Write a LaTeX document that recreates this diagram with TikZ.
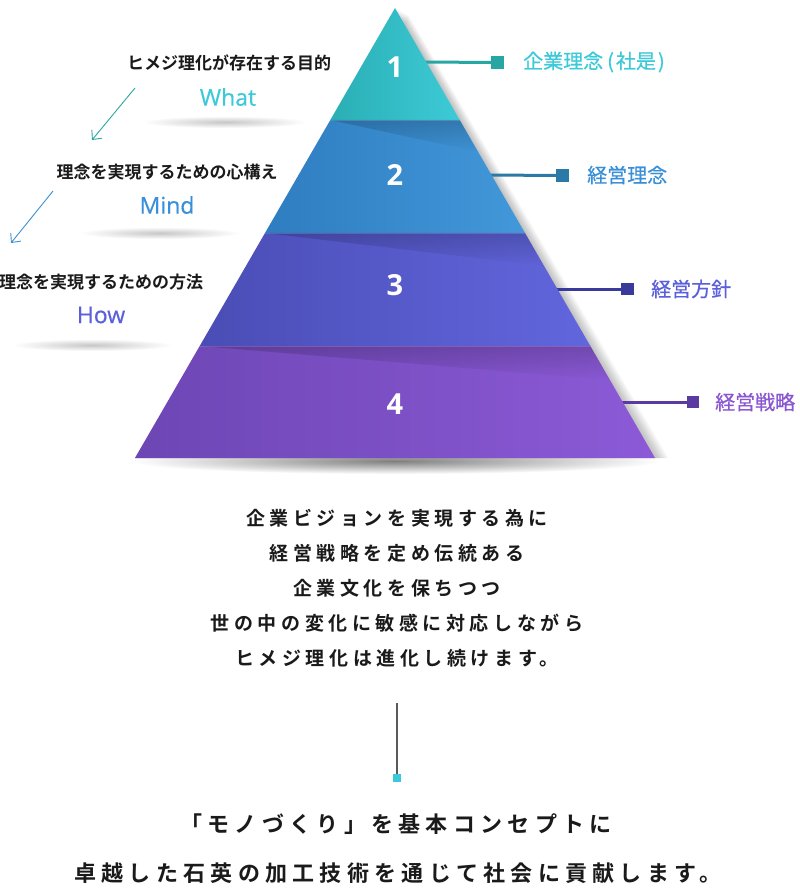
\documentclass[tikz,border=0pt]{standalone}
\usepackage{fontspec}
\setmainfont{Open Sans}
\newfontfamily\jp{Noto Sans CJK JP}[BoldFont=* Bold]
\newfontfamily\jpmed{Noto Sans CJK JP}[FakeBold=0.6]
\newfontfamily\jpsp{Noto Sans CJK JP}[BoldFont=* Bold, LetterSpace=24]
\newfontfamily\en{Open Sans}
\newfontfamily\enmed{Open Sans}[FakeBold=0.5]
\usetikzlibrary{arrows.meta,fadings}
\definecolor{tAl}{HTML}{2AAEB4}
\definecolor{tAr}{HTML}{3DCBD7}
\definecolor{tBl}{HTML}{2E7DC0}
\definecolor{tBr}{HTML}{4298DA}
\definecolor{tCl}{HTML}{4A4DB5}
\definecolor{tCr}{HTML}{6266DD}
\definecolor{tDl}{HTML}{6D46B4}
\definecolor{tDr}{HTML}{8C5AD7}
\definecolor{lnA}{HTML}{27A6A3}
\definecolor{lnB}{HTML}{2A79A6}
\definecolor{lnC}{HTML}{3A3A9C}
\definecolor{lnD}{HTML}{5B3AA2}
\definecolor{lbA}{HTML}{3CC9DA}
\definecolor{lbB}{HTML}{3A90D8}
\definecolor{lbC}{HTML}{5A60DC}
\definecolor{lbD}{HTML}{8A56D2}
\definecolor{txt}{HTML}{1A1A1A}
\definecolor{arrA}{HTML}{2AA8A0}
\definecolor{arrB}{HTML}{3A90D0}
\begin{document}
\begin{tikzpicture}[x=1pt,y=-1pt,
  num/.style={text=white, font=\en\bfseries\fontsize{29}{29}\selectfont, inner sep=0},
  sqbox/.style={minimum size=12.5pt, inner sep=0, outer sep=0},
  conn/.style={line width=3pt},
  rlabel/.style={anchor=west, inner sep=0, font=\jpmed\fontsize{20}{22}\selectfont},
  jlabel/.style={inner sep=0, text=txt, font=\jp\bfseries\fontsize{17}{20}\selectfont},
  elabel/.style={inner sep=0, font=\enmed\fontsize{23}{26}\selectfont},
  midtext/.style={inner sep=0, text=txt, font=\jpsp\bfseries\fontsize{19}{22}\selectfont},
  bottext/.style={inner sep=0, text=txt, font=\jpsp\bfseries\fontsize{22}{25}\selectfont},
  arr/.style={line width=0.9pt, -{Straight Barb[length=7pt,width=13pt]}},
  wedge/.style={fill=black, path fading=south, fill opacity=0.17},
]
\useasboundingbox[fill=white] (0,0) rectangle (800,891);

% ---- soft shadows ----
\shade[inner color=black!50, outer color=white] (395,461) ellipse [x radius=265, y radius=13];
\shade[inner color=black!22, outer color=white] (225,122) ellipse [x radius=82, y radius=6];
\shade[inner color=black!22, outer color=white] (160,233) ellipse [x radius=80, y radius=6];
\shade[inner color=black!22, outer color=white] (92,345) ellipse [x radius=80, y radius=6];
\foreach \i in {1,...,9}
  \fill[black, opacity=0.028] ({395+1.5*\i},{8+0.8*\i}) -- ({655+1.5*\i},458) -- (135,458) -- cycle;

% ---- connectors (under the pyramid) ----
\coordinate (e1) at (420,62);
\coordinate (e2) at (485,175);
\coordinate (e3) at (551,289);
\coordinate (e4) at (617,402);
\node[sqbox, fill=lnA] (s1) at (497.5,62.5) {};
\node[sqbox, fill=lnB] (s2) at (562.5,175.5) {};
\node[sqbox, fill=lnC] (s3) at (627.5,289) {};
\node[sqbox, fill=lnD] (s4) at (693,402) {};
\draw[conn, lnA] (e1) -- (s1);
\draw[conn, lnB] (e2) -- (s2);
\draw[conn, lnC] (e3) -- (s3);
\draw[conn, lnD] (e4) -- (s4);

% ---- pyramid tiers ----
\shade[left color=tAl, right color=tAr] (395,8) -- (459.7,120) -- (330.3,120) -- cycle;
\shade[left color=tBl, right color=tBr] (330.3,120) -- (459.7,120) -- (525,233) -- (265,233) -- cycle;
\shade[left color=tCl, right color=tCr] (265,233) -- (525,233) -- (590.3,346) -- (199.7,346) -- cycle;
\shade[left color=tDl, right color=tDr] (199.7,346) -- (590.3,346) -- (655,458) -- (135,458) -- cycle;
% darker wedges at the top of tiers 2-4
\fill[wedge] (330.3,120) -- (459.7,120) -- (478,152) -- cycle;
\fill[wedge] (265,233) -- (525,233) -- (544,266) -- cycle;
\fill[wedge] (199.7,346) -- (590.3,346) -- (610,380) -- cycle;
% thin light separators
\draw[white, opacity=0.15, line width=0.8pt] (330.3,120) -- (459.7,120);
\draw[white, opacity=0.15, line width=0.8pt] (265,233) -- (525,233);
\draw[white, opacity=0.15, line width=0.8pt] (199.7,346) -- (590.3,346);

% ---- numbers ----
\node[num] (n1) at (395,67) {1};
\node[num] (n2) at (395,175) {2};
\node[num] (n3) at (395,285) {3};
\node[num] (n4) at (395,404) {4};

% ---- right labels ----
\node[rlabel, text=lbA] (r1) at (523,62) {企業理念\kern4pt(\kern2pt社是\kern2pt)};
\node[rlabel, text=lbB] (r2) at (587,175) {経営理念};
\node[rlabel, text=lbC] (r3) at (651,289) {経営方針};
\node[rlabel, text=lbD] (r4) at (715,402) {経営戦略};

% ---- left labels ----
\node[jlabel] (q1) at (229,63) {ヒメジ理化が存在する目的};
\node[elabel, text=lbA] (w1) at (228,97) {What};
\node[jlabel] (q2) at (167,172) {理念を実現するための心構え};
\node[elabel, text=lbB] (w2) at (167,205) {Mind};
\node[jlabel] (q3) at (101,282) {理念を実現するための方法};
\node[elabel, text=lbC] (w3) at (101,315) {How};

\coordinate (a1s) at (135,88);
\coordinate (a1e) at (92,140);
\coordinate (a2s) at (53,191);
\coordinate (a2e) at (11,243);
\draw[arr, arrA] (a1s) -- (a1e);
\draw[arr, arrB] (a2s) -- (a2e);

% ---- middle text ----
\node[midtext] (m1) at (397,518) {企業ビジョンを実現する為に};
\node[midtext] (m2) at (397,553) {経営戦略を定め伝統ある};
\node[midtext] (m3) at (397,588) {企業文化を保ちつつ};
\node[midtext] (m4) at (397,623) {世の中の変化に敏感に対応しながら};
\node[midtext] (m5) at (397,658) {ヒメジ理化は進化し続けます。};

% ---- vertical connector ----
\coordinate (vtop) at (397,703);
\node[minimum size=8pt, inner sep=0, fill=lbA] (vsq) at (397,778) {};
\draw[line width=1.4pt, black!65] (vtop) -- (vsq.north);

% ---- bottom text ----
\node[bottext] (b1) at (396,824) {「モノづくり」を基本コンセプトに};
\node[bottext] (b2) at (398,873) {卓越した石英の加工技術を通じて社会に貢献します。};
\end{tikzpicture}
\end{document}
